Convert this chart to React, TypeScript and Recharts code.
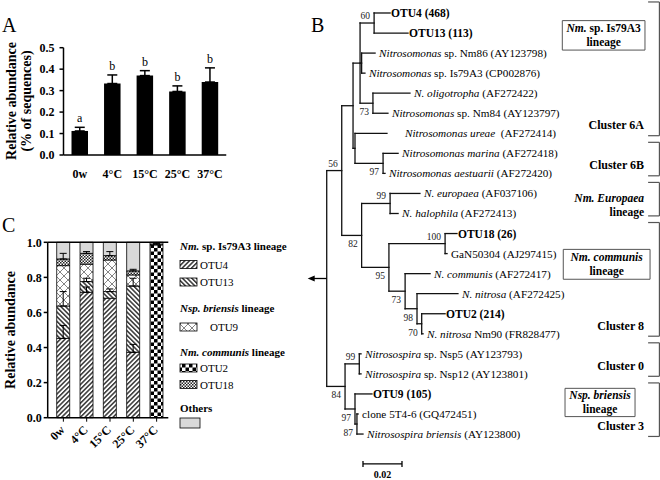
import React from 'react';
import {
  ComposedChart, Bar, XAxis, YAxis, ErrorBar, Line, LabelList,
  ScatterChart, Scatter, ReferenceLine, ReferenceArea,
} from 'recharts';

const SERIF = '"Liberation Serif", "Times New Roman", Times, serif';

/* ---------------- Panel A data ---------------- */
const aCategories = ['0w', '4°C', '15°C', '25°C', '37°C'];
const aValues = [0.112, 0.333, 0.37, 0.296, 0.34];
const aErrors = [0.017, 0.04, 0.023, 0.026, 0.066];
const aLetters = ['a', 'b', 'b', 'b', 'b'];
const aTicks = [0, 0.1, 0.2, 0.3, 0.4, 0.5];

/* ---------------- Panel C data ---------------- */
const cCategories = ['0w', '4°C', '15°C', '25°C', '37°C'];
const cOTU4 = [0.452, 0.715, 0.681, 0.373, 0];
const cOTU13 = [0.185, 0.061, 0.038, 0.378, 0];
const cOTU9 = [0.23, 0.099, 0.18, 0.063, 0];
const cOTU2 = [0, 0, 0, 0, 0.985];
const cOTU18 = [0.038, 0.062, 0.025, 0.023, 0.005];
const cOthers = [0.095, 0.063, 0.076, 0.163, 0.01];
const cOTU4Err = [0.074, 0.03, 0, 0.045, 0];
const cOTU13Err = [0.082, 0.019, 0.015, 0.044, 0];
const cOTU18Err = [0.032, 0.01, 0.023, 0.009, 0.004];
const cTicks = [0, 0.2, 0.4, 0.6, 0.8, 1.0];

/* ---------------- Panel B data ---------------- */
const leafLabels = [
  'OTU4 (468)',
  'OTU13 (113)',
  '*Nitrosomonas* sp. Nm86 (AY123798)',
  '*Nitrosomonas* sp. Is79A3 (CP002876)',
  '*N. oligotropha* (AF272422)',
  '*Nitrosomonas* sp. Nm84 (AY123797)',
  '     *Nitrosomonas ureae*  (AF272414)',
  '*Nitrosomonas marina* (AF272418)',
  '*Nitrosomonas aestuarii* (AF272420)',
  '*N. europaea* (AF037106)',
  '*N. halophila* (AF272413)',
  'OTU18 (26)',
  'GaN50304 (AJ297415)',
  '*N. communis* (AF272417)',
  '*N. nitrosa* (AF272425)',
  'OTU2 (214)',
  '*N. nitrosa* Nm90 (FR828477)',
  '*Nitrosospira* sp. Nsp5 (AY123793)',
  '*Nitrosospira* sp. Nsp12 (AY123801)',
  'OTU9 (105)',
  'clone 5T4-6 (GQ472451)',
  '*Nitrosospira briensis* (AY123800)',
];
const leafBold = [true, true, false, false, false, false, false, false, false, false, false,
  true, false, false, false, true, false, false, false, true, false, false];
const leafTips = [0.0325, 0.0417, 0.0248, 0.0196, 0.0427, 0.0314, 0.0309, 0.0366, 0.0299,
  0.0478, 0.0366, 0.0668, 0.0617, 0.053, 0.0673, 0.0607, 0.0494, 0.0176, 0.0176, 0.0232,
  0.0161, 0.0186];

const treeNodes = [
  { id: 'n60', x: 0.0243, kids: ['L0', 'L1'], boot: '60' },
  { id: 'n86', x: 0.0179, kids: ['L2', 'L3'], boot: '' },
  { id: 'n73a', x: 0.0237, kids: ['L4', 'L5'], boot: '73' },
  { id: 'n6Am', x: 0.0171, kids: ['n60', 'n86', 'n73a'], boot: '' },
  { id: 'n6B', x: 0.0289, kids: ['L7', 'L8'], boot: '97' },
  { id: 'nUr', x: 0.0145, kids: ['L6', 'n6B'], boot: '' },
  { id: 'n6', x: 0.0135, kids: ['n6Am', 'nUr'], boot: '' },
  { id: 'n99e', x: 0.0325, kids: ['L9', 'L10'], boot: '99' },
  { id: 'n100', x: 0.0607, kids: ['L11', 'L12'], boot: '100' },
  { id: 'n98', x: 0.0487, kids: ['L15', 'L16'], boot: '70' },
  { id: 'nX', x: 0.0463, kids: ['L14', 'n98'], boot: '98' },
  { id: 'n73', x: 0.0402, kids: ['L13', 'nX'], boot: '73' },
  { id: 'n95', x: 0.0319, kids: ['n100', 'n73'], boot: '95' },
  { id: 'n82', x: 0.0179, kids: ['n99e', 'n95'], boot: '82' },
  { id: 'n56', x: 0.0077, kids: ['n6', 'n82'], boot: '56' },
  { id: 'n99s', x: 0.0167, kids: ['L17', 'L18'], boot: '99' },
  { id: 'n87', x: 0.0155, kids: ['L20', 'L21'], boot: '87' },
  { id: 'n97', x: 0.0145, kids: ['L19', 'n87'], boot: '97' },
  { id: 'n84', x: 0.0094, kids: ['n99s', 'n97'], boot: '84' },
  { id: 'root', x: 0, kids: ['n56', 'n84'], boot: '' },
];
const bootBelow = ['n73a', 'n6B', 'nX', 'n98', 'n73', 'n95', 'n82', 'n87', 'n97', 'n84'];

const clusters = [
  { label: 'Cluster 6A', first: 0, last: 6 },
  { label: 'Cluster 6B', first: 7, last: 8 },
  { label: '*Nm. Europaea*|lineage', first: 9, last: 10 },
  { label: 'Cluster 8', first: 11, last: 16 },
  { label: 'Cluster 0', first: 17, last: 18 },
  { label: 'Cluster 3', first: 19, last: 21 },
];
const lineageBoxes = [
  { label: '*Nm.* sp. Is79A3|lineage', x1: 0.1208, x2: 0.1632, y1: 0.38, y2: 1.85 },
  { label: '*Nm. communis*|lineage', x1: 0.1213, x2: 0.1658, y1: 11.79, y2: 13.28 },
  { label: '*Nsp. briensis*|lineage', x1: 0.1222, x2: 0.1581, y1: 18.72, y2: 20.13 },
];
const scaleBar = { start: 0.0186, length: 0.02, row: 22.49, label: '0.02' };

/* layout constants for tree */
const treeXDomain = [-0.0137, 0.1709];
const treeYDomain = [-0.648, 23.292];
const BRACKET_X = 0.1706;
const BRACKET_TICK_X = 0.1648;
const CLUSTER_LABEL_X = 0.1627;

/* ---------------- derived ---------------- */
const aData = aCategories.map((cat, i) => ({
  cat,
  value: aValues[i],
  err: [0, aErrors[i]],
  top: aValues[i] + aErrors[i],
  letter: aLetters[i],
}));

const eb = (v: number) => (v ? [0, v] : null);
const cData = cCategories.map((cat, i) => ({
  cat,
  OTU4: cOTU4[i],
  OTU13: cOTU13[i],
  OTU9: cOTU9[i],
  OTU2: cOTU2[i],
  OTU18: cOTU18[i],
  Others: cOthers[i],
  e4: eb(cOTU4Err[i]),
  e13: eb(cOTU13Err[i]),
  e18: eb(cOTU18Err[i]),
}));

const nodeById: Record<string, any> = {};
treeNodes.forEach((n) => { nodeById[n.id] = n; });
function posOf(id: string): { x: number; y: number } {
  if (id.startsWith('L')) {
    const i = Number(id.slice(1));
    return { x: leafTips[i], y: i };
  }
  const n = nodeById[id];
  const ys = n.kids.map((k: string) => posOf(k).y);
  return { x: n.x, y: (Math.min(...ys) + Math.max(...ys)) / 2 };
}
const treeSegments: { x: number; y: number }[][] = [];
treeNodes.forEach((n) => {
  const kids = n.kids.map(posOf);
  const ys = kids.map((k) => k.y);
  treeSegments.push([{ x: n.x, y: Math.min(...ys) }, { x: n.x, y: Math.max(...ys) }]);
  kids.forEach((k) => treeSegments.push([{ x: n.x, y: k.y }, { x: k.x, y: k.y }]));
});
const leafData = leafLabels.map((label, i) => ({ x: leafTips[i], y: i, label, bold: leafBold[i] }));
const bootData = treeNodes.filter((n) => n.boot).map((n) => {
  const p = posOf(n.id);
  return { x: p.x, y: p.y, boot: n.boot, below: bootBelow.includes(n.id) };
});
const rootPos = posOf('root');
const bracketSegments: { x: number; y: number }[][] = [];
clusters.forEach((c) => {
  const top = c.first - 0.55;
  const bot = c.last + 0.12;
  bracketSegments.push([{ x: BRACKET_X, y: top }, { x: BRACKET_X, y: bot }]);
  bracketSegments.push([{ x: BRACKET_TICK_X, y: top }, { x: BRACKET_X, y: top }]);
  bracketSegments.push([{ x: BRACKET_TICK_X, y: bot }, { x: BRACKET_X, y: bot }]);
});
const clusterLabelData = clusters.map((c) => {
  const lines = c.label.split('|');
  return { x: CLUSTER_LABEL_X, y: c.last - (lines.length > 1 ? 0.06 : 0.4), lines };
});

/* ---------------- helpers ---------------- */
function rich(str: string) {
  return str.split('*').map((s, i) => (
    <tspan key={i} fontStyle={i % 2 ? 'italic' : 'normal'}>{s}</tspan>
  ));
}

const axisStroke = { stroke: '#000', strokeWidth: 1.5 };
const tickFont = { fill: '#000', fontSize: 12, fontWeight: 'bold', fontFamily: SERIF };

/* ---------------- Panel A ---------------- */
function PanelA() {
  return (
    <ComposedChart width={240} height={200} data={aData}
      margin={{ top: 47.7, right: 13.75, bottom: 15, left: 23.5 }}>
      <XAxis dataKey="cat" height={30} tickLine={false} axisLine={axisStroke}
        tick={tickFont} tickSize={6} tickMargin={8} interval={0} />
      <YAxis width={40} type="number" domain={[0, 0.5]} ticks={aTicks}
        tickFormatter={(v: number) => v.toFixed(1)} axisLine={axisStroke}
        tickLine={axisStroke} tickSize={4} tickMargin={5} tick={tickFont} />
      <Bar dataKey="value" fill="#000" barSize={16.5} isAnimationActive={false}>
        <ErrorBar dataKey="err" width={5} stroke="#000" strokeWidth={1.5} direction="y" />
      </Bar>
      <Line dataKey="top" stroke="none" dot={false} activeDot={false} isAnimationActive={false}
        legendType="none">
        <LabelList dataKey="letter" position="top" offset={5}
          style={{ fill: '#000', fontSize: 12, fontFamily: SERIF }} />
      </Line>
    </ComposedChart>
  );
}

/* ---------------- Panel C ---------------- */
const RotTick = (props: any) => {
  const { x, y, payload } = props;
  const ax = x + 2;
  const ay = y + 7;
  return (
    <text x={ax} y={ay} textAnchor="end" transform={`rotate(-45, ${ax}, ${ay})`}
      fontFamily={SERIF} fontSize={12} fontWeight="bold" fill="#000">{payload.value}</text>
  );
};

function PanelC() {
  const barProps = { stackId: 's', barSize: 13, stroke: '#000', strokeWidth: 0.8, isAnimationActive: false };
  const ebProps = { width: 3.5, stroke: '#000', strokeWidth: 1, direction: 'y' as const };
  return (
    <ComposedChart width={175} height={260} data={cData}
      margin={{ top: 22.3, right: 6.7, bottom: 12.3, left: 17.7 }}>
      <XAxis dataKey="cat" height={50} padding={{ left: 4, right: 0 }} axisLine={axisStroke}
        tickLine={{ stroke: '#000', strokeWidth: 1 }} tickSize={4} tickMargin={2}
        tick={<RotTick />} interval={0} />
      <YAxis width={30} type="number" domain={[0, 1]} ticks={cTicks}
        tickFormatter={(v: number) => v.toFixed(1)} axisLine={axisStroke}
        tickLine={axisStroke} tickSize={4} tickMargin={2} tick={tickFont} />
      <Bar dataKey="OTU4" fill="url(#pOTU4)" {...barProps}>
        <ErrorBar dataKey="e4" {...ebProps} />
      </Bar>
      <Bar dataKey="OTU13" fill="url(#pOTU13)" {...barProps}>
        <ErrorBar dataKey="e13" {...ebProps} />
      </Bar>
      <Bar dataKey="OTU9" fill="url(#pOTU9)" {...barProps} />
      <Bar dataKey="OTU2" fill="url(#pOTU2)" {...barProps} />
      <Bar dataKey="OTU18" fill="url(#pOTU18)" {...barProps}>
        <ErrorBar dataKey="e18" {...ebProps} />
      </Bar>
      <Bar dataKey="Others" fill="#d9d9d9" {...barProps} />
      <ReferenceLine y={1} stroke="#000" strokeWidth={1.5} />
    </ComposedChart>
  );
}

/* ---------------- Panel B (tree) ---------------- */
const LeafShape = (props: any) => {
  const { cx, cy, payload } = props;
  return (
    <text x={cx + (payload.bold ? 1 : 4)} y={cy} dominantBaseline="central" fontFamily={SERIF}
      fontSize={payload.bold ? 11.5 : 11.2} fontWeight={payload.bold ? 'bold' : 'normal'}
      fill="#000" style={{ whiteSpace: 'pre' }}>{rich(payload.label)}</text>
  );
};
const BootShape = (props: any) => {
  const { cx, cy, payload } = props;
  return (
    <text x={cx - 4} y={cy + (payload.below ? 9 : -7)} textAnchor="end" dominantBaseline="central"
      fontFamily={SERIF} fontSize={9.5} fill="#222">{payload.boot}</text>
  );
};
const ClusterLabelShape = (props: any) => {
  const { cx, cy, payload } = props;
  const n = payload.lines.length;
  return (
    <g>
      {payload.lines.map((ln: string, k: number) => (
        <text key={k} x={cx} y={cy - 14.5 * (n - 1 - k)} textAnchor="end" dominantBaseline="central"
          fontFamily={SERIF} fontSize={n > 1 ? 11.5 : 12} fontWeight="bold" fill="#000">{rich(ln)}</text>
      ))}
    </g>
  );
};
const ArrowShape = (props: any) => {
  const { cx, cy } = props;
  return (
    <g>
      <line x1={cx} y1={cy} x2={cx - 13} y2={cy} stroke="#000" strokeWidth={1.3} />
      <polygon points={`${cx - 19},${cy} ${cx - 12},${cy - 3} ${cx - 12},${cy + 3}`} fill="#000" />
    </g>
  );
};
const ScaleLabelShape = (props: any) => {
  const { cx, cy, payload } = props;
  return (
    <text x={cx} y={cy} textAnchor="middle" dominantBaseline="central" fontFamily={SERIF}
      fontSize={10} fontWeight="bold" fill="#000">{payload.label}</text>
  );
};
const BoxLabel = (label: string) => (props: any) => {
  const vb = props.viewBox || {};
  const cx = vb.x + vb.width / 2;
  const cy = vb.y + vb.height / 2;
  const lines = label.split('|');
  return (
    <g>
      {lines.map((ln, k) => (
        <text key={k} x={cx} y={cy + (k - (lines.length - 1) / 2) * 14} textAnchor="middle"
          dominantBaseline="central" fontFamily={SERIF} fontSize={11.5} fontWeight="bold"
          fill="#000">{rich(ln)}</text>
      ))}
    </g>
  );
};

function PanelB() {
  const sb = scaleBar;
  return (
    <ScatterChart width={360} height={480} margin={{ top: 0, right: 0, bottom: 0, left: 0 }}>
      <XAxis type="number" dataKey="x" domain={treeXDomain} allowDataOverflow hide />
      <YAxis type="number" dataKey="y" domain={treeYDomain} allowDataOverflow reversed hide />
      {treeSegments.map((s, i) => (
        <ReferenceLine key={'t' + i} segment={s} stroke="#111" strokeWidth={1.3}
          strokeLinecap="square" ifOverflow="visible" />
      ))}
      {bracketSegments.map((s, i) => (
        <ReferenceLine key={'b' + i} segment={s} stroke="#555" strokeWidth={1.2} ifOverflow="visible" />
      ))}
      {lineageBoxes.map((b, i) => (
        <ReferenceArea key={'box' + i} x1={b.x1} x2={b.x2} y1={b.y1} y2={b.y2} fill="none"
          fillOpacity={0} stroke="#555" strokeWidth={1} ifOverflow="visible"
          label={{ content: BoxLabel(b.label) }} />
      ))}
      <ReferenceLine segment={[{ x: sb.start, y: sb.row }, { x: sb.start + sb.length, y: sb.row }]}
        stroke="#000" strokeWidth={1.3} ifOverflow="visible" />
      <ReferenceLine segment={[{ x: sb.start, y: sb.row - 0.15 }, { x: sb.start, y: sb.row + 0.15 }]}
        stroke="#000" strokeWidth={1.3} ifOverflow="visible" />
      <ReferenceLine segment={[{ x: sb.start + sb.length, y: sb.row - 0.15 }, { x: sb.start + sb.length, y: sb.row + 0.15 }]}
        stroke="#000" strokeWidth={1.3} ifOverflow="visible" />
      <Scatter data={leafData} shape={LeafShape} isAnimationActive={false} />
      <Scatter data={bootData} shape={BootShape} isAnimationActive={false} />
      <Scatter data={clusterLabelData} shape={ClusterLabelShape} isAnimationActive={false} />
      <Scatter data={[{ x: rootPos.x, y: rootPos.y }]} shape={ArrowShape} isAnimationActive={false} />
      <Scatter data={[{ x: sb.start + sb.length / 2, y: sb.row + 0.52, label: sb.label }]}
        shape={ScaleLabelShape} isAnimationActive={false} />
    </ScatterChart>
  );
}

/* ---------------- legend & overlay ---------------- */
const legendGroups = [
  { title: '*Nm.* sp. Is79A3 lineage', keys: ['OTU4', 'OTU13'] },
  { title: '*Nsp. briensis* lineage', keys: ['OTU9'] },
  { title: '*Nm. communis* lineage', keys: ['OTU2', 'OTU18'] },
  { title: 'Others', keys: ['Others'] },
];
const legendFills: Record<string, string> = {
  OTU4: 'url(#pOTU4)', OTU13: 'url(#pOTU13)', OTU9: 'url(#pOTU9)',
  OTU2: 'url(#pOTU2)', OTU18: 'url(#pOTU18)', Others: '#d9d9d9',
};
const legendHeadY = [246, 307.5, 352, 408];
const legendItemY = [[264.5, 282], [327], [368, 384.5], [423]];

function Overlay() {
  return (
    <svg width={660} height={480} style={{ position: 'absolute', left: 0, top: 0, pointerEvents: 'none' }}>
      <defs>
        <pattern id="pOTU4" patternUnits="userSpaceOnUse" width="3.3" height="3.3" patternTransform="rotate(45)">
          <rect width="3.3" height="3.3" fill="#fff" />
          <line x1="1.6" y1="0" x2="1.6" y2="3.3" stroke="#000" strokeWidth="1.2" />
        </pattern>
        <pattern id="pOTU13" patternUnits="userSpaceOnUse" width="3.3" height="3.3" patternTransform="rotate(-45)">
          <rect width="3.3" height="3.3" fill="#fff" />
          <line x1="1.6" y1="0" x2="1.6" y2="3.3" stroke="#000" strokeWidth="1.2" />
        </pattern>
        <pattern id="pOTU9" patternUnits="userSpaceOnUse" width="8" height="8">
          <rect width="8" height="8" fill="#fff" />
          <line x1="0" y1="0" x2="8" y2="8" stroke="#777" strokeWidth="0.9" />
          <line x1="8" y1="0" x2="0" y2="8" stroke="#777" strokeWidth="0.9" />
        </pattern>
        <pattern id="pOTU2" patternUnits="userSpaceOnUse" width="7" height="7">
          <rect width="7" height="7" fill="#fff" />
          <rect x="0" y="0" width="3.5" height="3.5" fill="#000" />
          <rect x="3.5" y="3.5" width="3.5" height="3.5" fill="#000" />
        </pattern>
        <pattern id="pOTU18" patternUnits="userSpaceOnUse" width="3" height="3">
          <rect width="3" height="3" fill="#fff" />
          <rect x="0" y="0" width="1.5" height="1.5" fill="#222" />
          <rect x="1.5" y="1.5" width="1.5" height="1.5" fill="#222" />
        </pattern>
      </defs>
      <text x={2} y={32} fontFamily={SERIF} fontSize={20} fill="#000">A</text>
      <text x={311} y={32} fontFamily={SERIF} fontSize={20} fill="#000">B</text>
      <text x={2} y={232} fontFamily={SERIF} fontSize={20} fill="#000">C</text>
      <text transform="rotate(-90, 11, 101)" x={11} y={101} textAnchor="middle" dominantBaseline="central"
        fontFamily={SERIF} fontSize={14} fontWeight="bold" fill="#000">Relative abundance</text>
      <text transform="rotate(-90, 26, 101)" x={26} y={101} textAnchor="middle" dominantBaseline="central"
        fontFamily={SERIF} fontSize={14} fontWeight="bold" fill="#000">(% of sequences)</text>
      <text transform="rotate(-90, 10, 330)" x={10} y={330} textAnchor="middle" dominantBaseline="central"
        fontFamily={SERIF} fontSize={14} fontWeight="bold" fill="#000">Relative abundance</text>
      {legendGroups.map((g, gi) => (
        <g key={gi}>
          <text x={180} y={legendHeadY[gi]} dominantBaseline="central" fontFamily={SERIF} fontSize={11}
            fontWeight="bold" fill="#000">{rich(g.title)}</text>
          {g.keys.map((k, ki) => {
            const y = legendItemY[gi][ki];
            const big = k === 'Others';
            const w = big ? 20 : 17;
            const h = big ? 10 : 8;
            return (
              <g key={k}>
                <rect x={180} y={y - h / 2} width={w} height={h} fill={legendFills[k]} stroke="#000" strokeWidth={0.8} />
                {!big && (
                  <text x={k === 'OTU9' ? 210 : 200} y={y} dominantBaseline="central" fontFamily={SERIF}
                    fontSize={11} fill="#000">{k}</text>
                )}
              </g>
            );
          })}
        </g>
      ))}
    </svg>
  );
}

export default function App() {
  return (
    <div style={{ position: 'absolute', left: 0, top: 0, width: 660, height: 480, background: '#fff', overflow: 'hidden' }}>
      <div style={{ position: 'absolute', left: 0, top: 0 }}><PanelA /></div>
      <div style={{ position: 'absolute', left: 0, top: 220 }}><PanelC /></div>
      <div style={{ position: 'absolute', left: 300, top: 0 }}><PanelB /></div>
      <Overlay />
    </div>
  );
}
